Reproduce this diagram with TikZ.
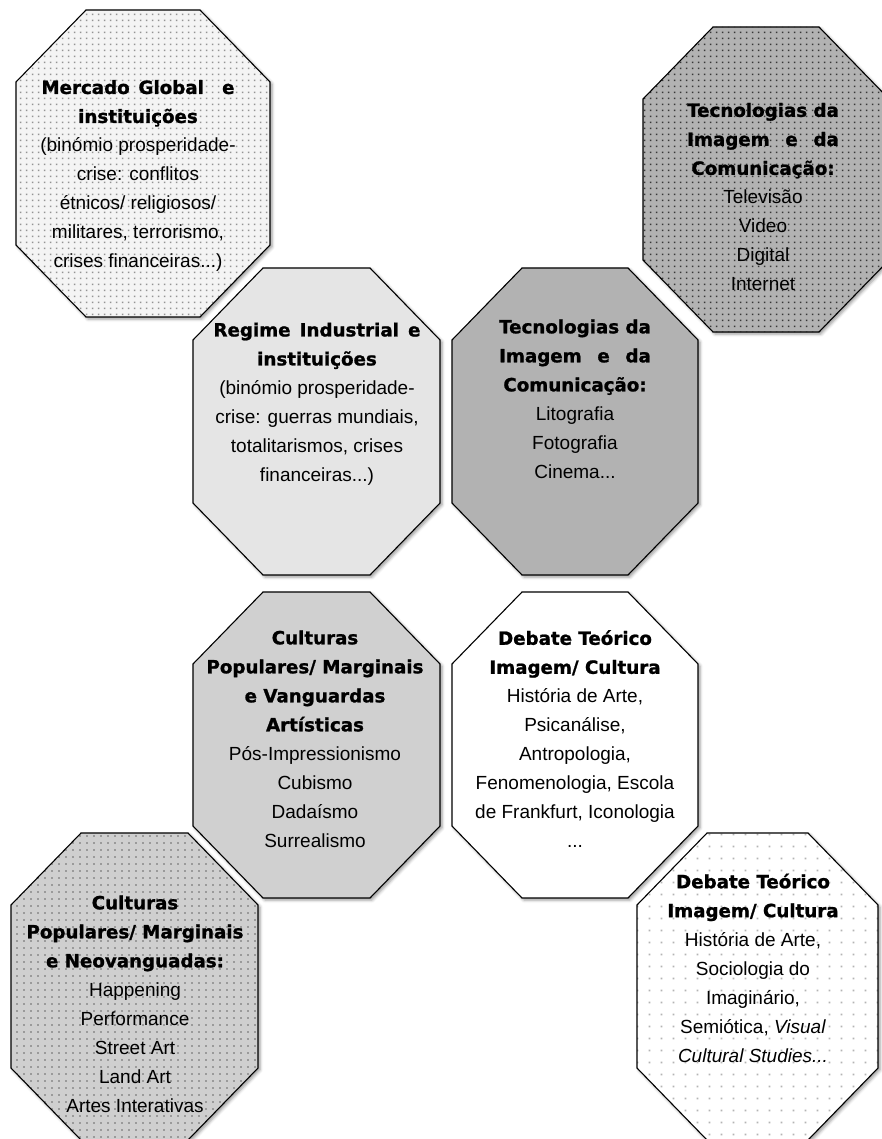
\documentclass[tikz,border=0pt]{standalone}
\usepackage{calc}
\usepackage{fontspec}
\setmainfont{Liberation Sans}
\newfontfamily\boldfam{DejaVu Sans}[Scale=0.96, BoldFeatures={FakeBold=1.2}]
\newcommand{\hd}[1]{{\boldfam\bfseries #1}}
\usetikzlibrary{patterns,shadows.blur}

\pgfdeclarepatternformonly{dotsfine}{\pgfqpoint{0pt}{0pt}}{\pgfqpoint{6pt}{6pt}}{\pgfqpoint{6pt}{6pt}}{\pgfpathrectangle{\pgfqpoint{2.1pt}{2.1pt}}{\pgfqpoint{1.9pt}{1.9pt}}\pgfusepath{fill}}
\pgfdeclarepatternformonly{dotsmid}{\pgfqpoint{0pt}{0pt}}{\pgfqpoint{7pt}{7pt}}{\pgfqpoint{7pt}{7pt}}{\pgfpathrectangle{\pgfqpoint{2.5pt}{2.5pt}}{\pgfqpoint{2pt}{2pt}}\pgfusepath{fill}}
\pgfdeclarepatternformonly{dotssparse}{\pgfqpoint{0pt}{0pt}}{\pgfqpoint{11.5pt}{11.5pt}}{\pgfqpoint{11.5pt}{11.5pt}}{\pgfpathrectangle{\pgfqpoint{4.8pt}{4.8pt}}{\pgfqpoint{1.8pt}{1.8pt}}\pgfusepath{fill}}

\definecolor{bgA}{HTML}{F4F4F4}
\definecolor{dotA}{HTML}{949494}
\definecolor{bgB}{HTML}{B2B2B2}
\definecolor{dotB}{HTML}{383838}
\definecolor{bgC}{HTML}{E5E5E5}
\definecolor{bgD}{HTML}{B2B2B2}
\definecolor{bgE}{HTML}{D0D0D0}
\definecolor{bgG}{HTML}{CFCFCF}
\definecolor{dotG}{HTML}{9A9A9A}
\definecolor{dotH}{HTML}{B4B4B4}

\newcommand{\octag}[5]{%
  \path[#5] ({#1+70},#2) -- ({#3-70},#2) -- (#3,{#2+72}) -- (#3,{#4-72})
    -- ({#3-70},#4) -- ({#1+70},#4) -- (#1,{#4-72}) -- (#1,{#2+72}) -- cycle;}

\tikzset{
  octbox/.style={blur shadow={shadow xshift=2pt, shadow yshift=-2pt, shadow blur radius=3pt, shadow opacity=40},
                 draw=black, line width=1.1pt},
  txt/.style={align=center, font=\fontsize{19}{29}\selectfont, inner sep=0pt, text=black},
}

\begin{document}
\begin{tikzpicture}[x=1pt,y=-1pt]
\useasboundingbox (0,0) rectangle (882,1139);

% octagons
\octag{16}{10}{270}{317}{octbox, preaction={fill=bgA}, pattern=dotsfine, pattern color=dotA}
\octag{643}{27}{889}{332}{octbox, preaction={fill=bgB}, pattern=dotsfine, pattern color=dotB}
\octag{193}{268}{440}{575}{octbox, fill=bgC}
\octag{452}{268}{698}{575}{octbox, fill=bgD}
\octag{193}{592}{440}{898}{octbox, fill=bgE}
\octag{452}{592}{698}{898}{octbox, fill=white}
\octag{11}{833}{258}{1140}{octbox, preaction={fill=bgG}, pattern=dotsmid, pattern color=dotG}
\octag{637}{833}{878}{1140}{octbox, preaction={fill=white}, pattern=dotssparse, pattern color=dotH}

% texts
\node[txt] (t1) at (138,176) {\makebox[193pt][s]{\hd{Mercado Global\quad e}}\\\hd{instituições}\\(binómio prosperidade-\\crise: conflitos\\étnicos/ religiosos/\\militares, terrorismo,\\crises financeiras...)};
\node[txt] (t2) at (763,197) {\hd{Tecnologias da}\\\makebox[\widthof{\hd{Tecnologias da}}][s]{\hd{Imagem e da}}\\\hd{Comunicação:}\\Televisão\\Video\\Digital\\Internet};
\node[txt] (t3) at (317,404) {\makebox[207pt][s]{\hd{Regime Industrial e}}\\\hd{instituições}\\(binómio prosperidade-\\crise: guerras mundiais,\\totalitarismos, crises\\financeiras...)};
\node[txt] (t4) at (575,399) {\hd{Tecnologias da}\\\makebox[\widthof{\hd{Tecnologias da}}][s]{\hd{Imagem e da}}\\\hd{Comunicação:}\\Litografia\\Fotografia\\Cinema...};
\node[txt] (t5) at (315,739) {\hd{Culturas}\\\hd{Populares/ Marginais}\\\hd{e Vanguardas}\\\hd{Artísticas}\\Pós-Impressionismo\\Cubismo\\Dadaísmo\\Surrealismo};
\node[txt] (t6) at (575,739) {\hd{Debate Teórico}\\\hd{Imagem/ Cultura}\\História de Arte,\\Psicanálise,\\Antropologia,\\Fenomenologia, Escola\\de Frankfurt, Iconologia\\...};
\node[txt] (t7) at (135,1004) {\hd{Culturas}\\\hd{Populares/ Marginais}\\\hd{e Neovanguadas:}\\Happening\\Performance\\Street Art\\Land Art\\Artes Interativas};
\node[txt] (t8) at (753,968) {\hd{Debate Teórico}\\\hd{Imagem/ Cultura}\\História de Arte,\\Sociologia do\\Imaginário,\\Semiótica, \textit{Visual}\\\textit{Cultural Studies...}};
\end{tikzpicture}
\end{document}
